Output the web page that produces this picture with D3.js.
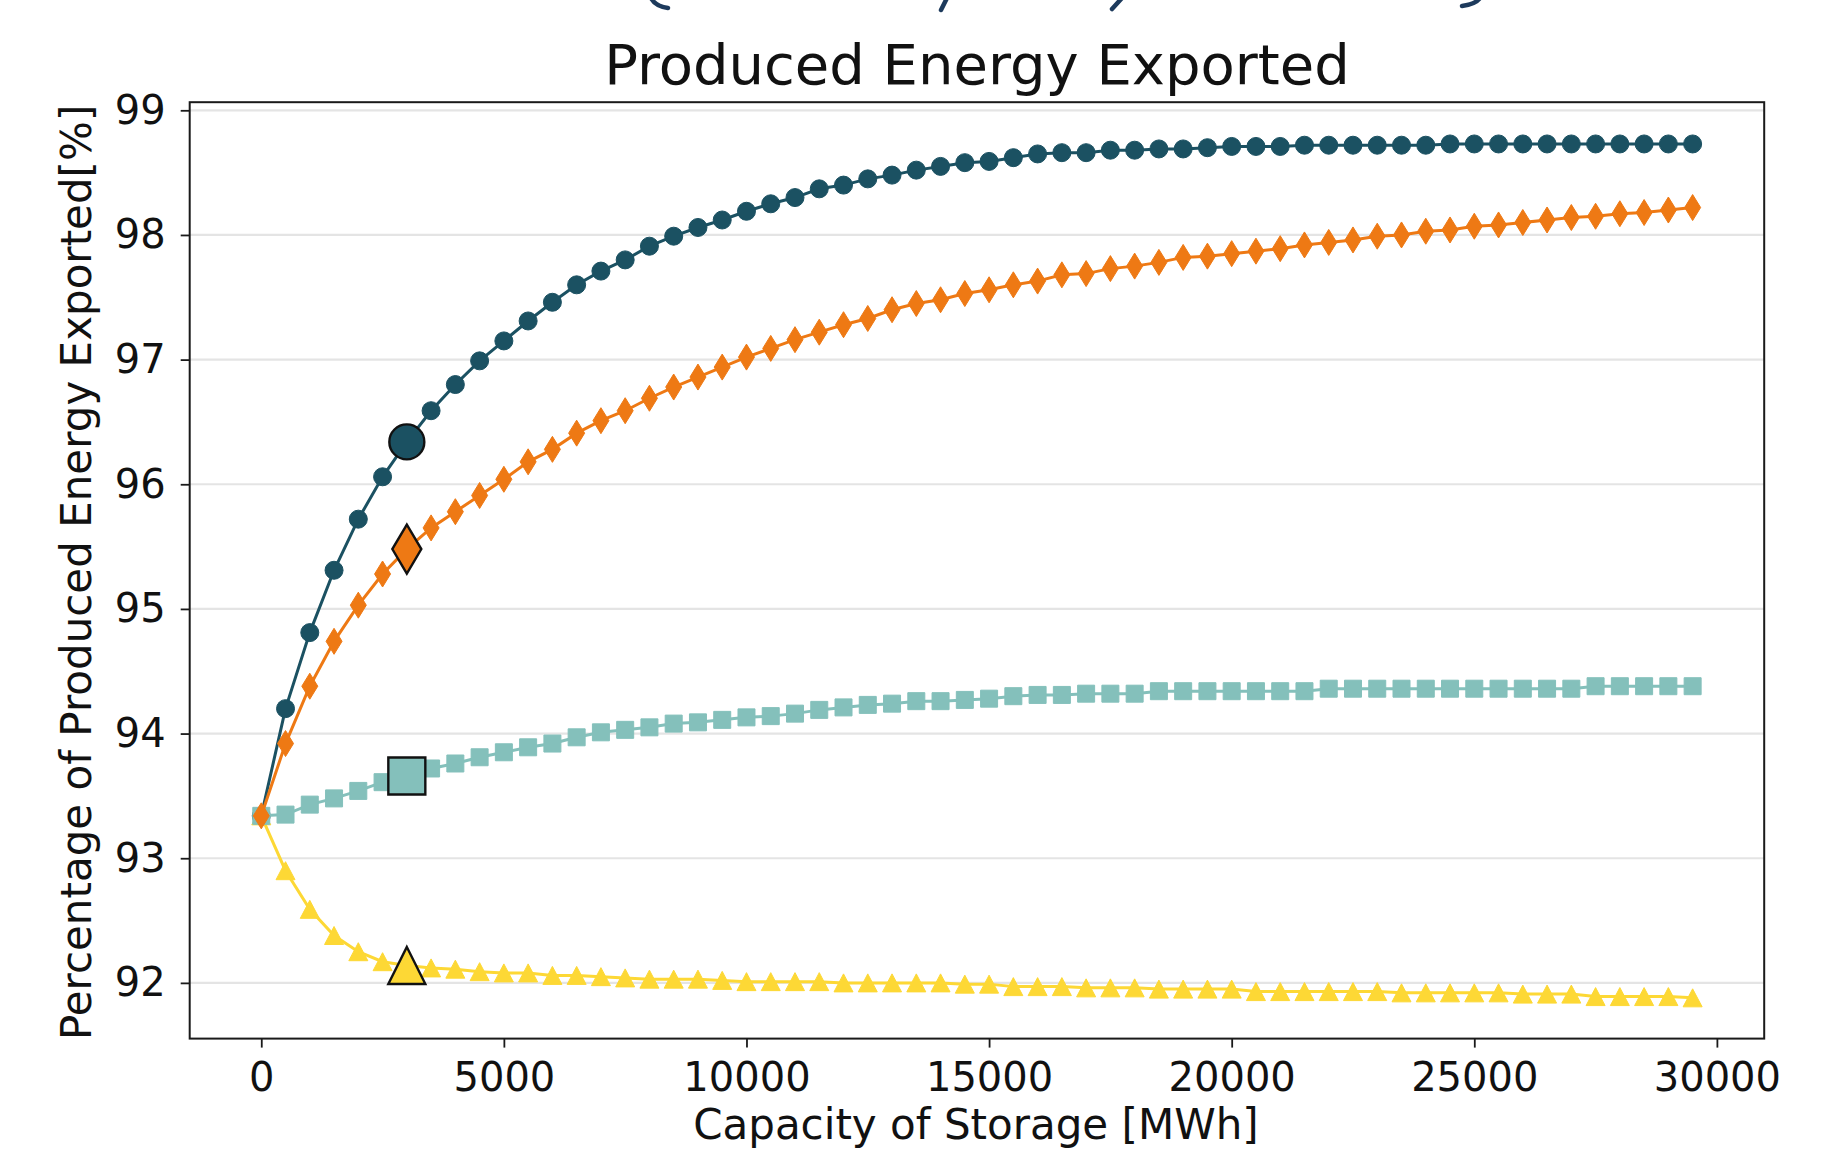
<!DOCTYPE html>
<html><head><meta charset="utf-8">
<script src="https://cdn.jsdelivr.net/npm/d3@7"></script>
<style>
html,body{margin:0;padding:0;background:#fff;}
svg{display:block;font-family:"DejaVu Sans",sans-serif;}
</style></head><body>
<svg id="chart" width="1824" height="1151"></svg>
<script>
// ---------------- DATA ----------------
const capacity = [0,500,1000,1500,2000,2500,3000,3500,4000,4500,5000,5500,6000,6500,7000,7500,8000,8500,9000,9500,
  10000,10500,11000,11500,12000,12500,13000,13500,14000,14500,15000,15500,16000,16500,17000,17500,18000,18500,19000,19500,
  20000,20500,21000,21500,22000,22500,23000,23500,24000,24500,25000,25500,26000,26500,27000,27500,28000,28500,29000,29500];

const seriesDark = [93.34,94.20,94.81,95.31,95.72,96.06,96.34,96.59,96.80,96.99,97.15,97.31,97.46,97.60,97.71,97.80,97.91,97.99,98.06,98.12,
  98.19,98.25,98.30,98.37,98.40,98.45,98.48,98.52,98.55,98.58,98.59,98.62,98.65,98.66,98.66,98.68,98.68,98.69,98.69,98.70,
  98.71,98.71,98.71,98.72,98.72,98.72,98.72,98.72,98.72,98.73,98.73,98.73,98.73,98.73,98.73,98.73,98.73,98.73,98.73,98.73];

const seriesOrange = [93.34,93.92,94.38,94.74,95.03,95.28,95.48,95.65,95.78,95.91,96.04,96.18,96.28,96.41,96.51,96.59,96.69,96.78,96.86,96.94,
  97.02,97.09,97.16,97.22,97.28,97.33,97.40,97.45,97.48,97.53,97.56,97.60,97.63,97.68,97.69,97.73,97.75,97.78,97.82,97.83,
  97.85,97.87,97.89,97.92,97.94,97.96,97.99,98.00,98.03,98.04,98.07,98.08,98.10,98.12,98.14,98.15,98.17,98.18,98.20,98.22];

const seriesTeal = [93.34,93.35,93.43,93.48,93.54,93.61,93.66,93.72,93.76,93.81,93.85,93.89,93.92,93.97,94.01,94.03,94.05,94.08,94.09,94.11,
  94.13,94.14,94.16,94.19,94.21,94.23,94.24,94.26,94.26,94.27,94.28,94.30,94.31,94.31,94.32,94.32,94.32,94.34,94.34,94.34,
  94.34,94.34,94.34,94.34,94.36,94.36,94.36,94.36,94.36,94.36,94.36,94.36,94.36,94.36,94.36,94.38,94.38,94.38,94.38,94.38];

const seriesYellow = [93.34,92.90,92.59,92.38,92.25,92.17,92.14,92.12,92.11,92.09,92.08,92.08,92.06,92.06,92.05,92.04,92.03,92.03,92.03,92.02,
  92.01,92.01,92.01,92.01,92.00,92.00,92.00,92.00,92.00,91.99,91.99,91.97,91.97,91.97,91.96,91.96,91.96,91.95,91.95,91.95,
  91.95,91.93,91.93,91.93,91.93,91.93,91.93,91.92,91.92,91.92,91.92,91.92,91.91,91.91,91.91,91.89,91.89,91.89,91.89,91.88];

const xTicks = [0,5000,10000,15000,20000,25000,30000];
const yTicks = [92,93,94,95,96,97,98,99];
const highlightCapacity = 3000;

const titleText = "Produced Energy Exported";
const xLabel = "Capacity of Storage [MWh]";
const yLabel = "Percentage of Produced Energy Exported[%]";

// ---------------- LAYOUT / STYLE ----------------
const W = 1824, H = 1151;
const plot = {left: 189.7, right: 1764.2, top: 102.2, bottom: 1038.6};

const series = [
  {values: seriesDark,   color: "#1b5162", marker: "circle",   small: [18,18], big: [35,35]},
  {values: seriesYellow, color: "#fdd835", marker: "triangle", small: [19,18], big: [37,37]},
  {values: seriesTeal,   color: "#84c0bb", marker: "square",   small: [17,17], big: [37,37]},
  {values: seriesOrange, color: "#ee7914", marker: "diamond",  small: [16,26], big: [29,49]}
];

function markerPath(type, w, h) {
  const a = w/2, b = h/2;
  if (type === "circle") {
    return `M${-a},0A${a},${a} 0 1,0 ${a},0A${a},${a} 0 1,0 ${-a},0Z`;
  } else if (type === "square") {
    return `M${-a},${-b}H${a}V${b}H${-a}Z`;
  } else if (type === "triangle") {
    return `M0,${-b}L${a},${b}L${-a},${b}Z`;
  } else {
    return `M0,${-b}L${a},0L0,${b}L${-a},0Z`;
  }
}

// ---------------- SCALES ----------------
const xmin = d3.min(capacity), xmax = d3.max(capacity);
const xpad = (xmax - xmin) * 0.05;
const x = d3.scaleLinear().domain([xmin - xpad, xmax + xpad]).range([plot.left, plot.right]);
const y = d3.scaleLinear().domain([91.553, 99.065]).range([plot.bottom, plot.top]);

const svg = d3.select("#chart");
svg.append("rect").attr("width", W).attr("height", H).attr("fill", "#fff");

// cut-off text fragments from the slide above (descenders only)
const frag = svg.append("g").attr("fill", "none").attr("stroke", "#1d3a5c").attr("stroke-width", 4.5).attr("stroke-linecap", "round");
frag.append("path").attr("d", "M651,-2 Q655,6 668,8");
frag.append("path").attr("d", "M947,-2 L941,10");
frag.append("path").attr("d", "M1122,-2 L1112,9");
frag.append("path").attr("d", "M1480,-2 Q1476,4 1462,6");

// gridlines
svg.append("g").selectAll("line").data(yTicks).join("line")
  .attr("x1", plot.left).attr("x2", plot.right)
  .attr("y1", d => y(d)).attr("y2", d => y(d))
  .attr("stroke", "#e4e4e4").attr("stroke-width", 2.2);

// series lines and markers
const line = d3.line().x((d, i) => x(capacity[i])).y(d => y(d));
series.forEach(s => {
  const g = svg.append("g");
  g.append("path").datum(s.values).attr("d", line)
    .attr("fill", "none").attr("stroke", s.color).attr("stroke-width", 3);
  g.selectAll("path.m").data(s.values).join("path").attr("class", "m")
    .attr("transform", (d, i) => `translate(${x(capacity[i])},${y(d)})`)
    .attr("d", markerPath(s.marker, s.small[0], s.small[1]))
    .attr("fill", s.color).attr("stroke", s.color).attr("stroke-width", 1);
});

// highlighted markers at selected capacity
const hi = capacity.indexOf(highlightCapacity);
series.forEach(s => {
  svg.append("path")
    .attr("transform", `translate(${x(capacity[hi])},${y(s.values[hi])})`)
    .attr("d", markerPath(s.marker, s.big[0], s.big[1]))
    .attr("fill", s.color).attr("stroke", "#111").attr("stroke-width", 2.4);
});

// frame
svg.append("rect").attr("x", plot.left).attr("y", plot.top)
  .attr("width", plot.right - plot.left).attr("height", plot.bottom - plot.top)
  .attr("fill", "none").attr("stroke", "#1a1a1a").attr("stroke-width", 2);

// axes
const xAxis = d3.axisBottom(x).tickValues(xTicks).tickSize(9).tickPadding(15).tickFormat(d3.format("d"));
const gx = svg.append("g").attr("transform", `translate(0,${plot.bottom})`).call(xAxis);
gx.select(".domain").remove();
gx.selectAll(".tick line").attr("stroke", "#1a1a1a").attr("stroke-width", 1.8);
gx.selectAll(".tick text").attr("font-size", 40).attr("fill", "#111").attr("font-family", "DejaVu Sans");

const yAxis = d3.axisLeft(y).tickValues(yTicks).tickSize(9).tickPadding(15).tickFormat(d3.format("d"));
const gy = svg.append("g").attr("transform", `translate(${plot.left},0)`).call(yAxis);
gy.select(".domain").remove();
gy.selectAll(".tick line").attr("stroke", "#1a1a1a").attr("stroke-width", 1.8);
gy.selectAll(".tick text").attr("font-size", 40).attr("fill", "#111").attr("font-family", "DejaVu Sans");

// title and labels
svg.append("text").attr("x", (plot.left + plot.right) / 2).attr("y", 83.5)
  .attr("text-anchor", "middle").attr("font-size", 56).attr("fill", "#111").text(titleText);
svg.append("text").attr("x", (plot.left + plot.right) / 2 - 1).attr("y", 1139)
  .attr("text-anchor", "middle").attr("font-size", 42).attr("fill", "#111").text(xLabel);
svg.append("text").attr("transform", `translate(91,${(plot.top + plot.bottom) / 2 + 2}) rotate(-90)`)
  .attr("text-anchor", "middle").attr("font-size", 42).attr("fill", "#111").text(yLabel);
</script>
</body></html>
